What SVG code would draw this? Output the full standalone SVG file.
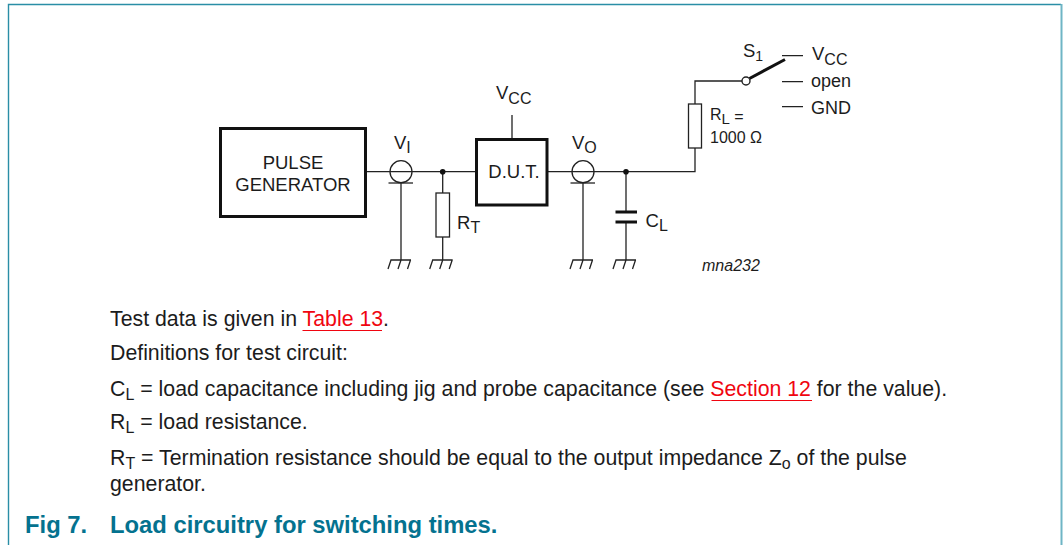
<svg xmlns="http://www.w3.org/2000/svg" width="1063" height="545" viewBox="0 0 1063 545">
<style>
text{font-family:"Liberation Sans",Arial,sans-serif;fill:#1c1c1c;font-size:18.500px}
tspan.sub{font-size:16px}
.body{font-size:21.300px}
.body tspan.sub{font-size:16px}
.w{fill:none;stroke:#222;stroke-width:1.300}
.t{fill:none;stroke:#111;stroke-width:3}
.f{fill:none;stroke:#111;stroke-width:3}
.link{fill:#f00510}
.u{stroke:#f00510;stroke-width:1.200}
.cap{font-size:23.800px;font-weight:bold;fill:#04728f}
</style>
<defs>
<g id="gnd"><path class="w" d="M-10.500 0H10M-13 9L-10 0M-3 9L0 0M6.500 9L9.500 0"/></g>
</defs>
<rect width="1063" height="545" fill="#fff"/>
<g id="frame" fill="none">
<path d="M8.500 545V4.500H1061" stroke="#2a8ea6" stroke-width="1.400"/>
<path d="M1061.500 4V545" stroke="#6fb5c5" stroke-width="2"/>
</g>
<g id="connectors">
<path class="w" d="M366 171.700H476M547 171.700H695V148M695 104V81H742M401 183V260M442.700 171.700V193M442.700 237V260M512 115V139M583 183V260M626 171.700V212M626 222V260"/>
<path class="t" d="M749.500 78.500L785 59.500"/>
<path class="w" d="M782 55.700H803M782 81.700H803M782 106.700H803"/>
<circle cx="442.700" cy="171.700" r="2.800" fill="#111"/>
<circle cx="626" cy="171.700" r="2.800" fill="#111"/>
</g>
<g id="pulse-generator"><rect class="f" x="220.500" y="128.500" width="145" height="88"/><text x="293" y="169" text-anchor="middle">PULSE</text><text x="293" y="191" text-anchor="middle">GENERATOR</text></g>
<g id="dut"><rect class="f" x="476.500" y="139.500" width="70.500" height="65.500"/><text x="514" y="178" text-anchor="middle">D.U.T.</text></g>
<g id="vi"><circle class="w" cx="401" cy="171.700" r="11"/><path class="w" d="M388.500 183H413"/><text x="394" y="148.500">V<tspan class="sub" dy="4">I</tspan></text></g>
<g id="vo"><circle class="w" cx="583" cy="171.700" r="11"/><path class="w" d="M570.500 183H595"/><text x="572" y="149">V<tspan class="sub" dy="4">O</tspan></text></g>
<g id="rt"><rect class="w" x="436" y="193" width="13.500" height="44"/><text x="457" y="229">R<tspan class="sub" dy="4">T</tspan></text></g>
<g id="rl"><rect class="w" x="688.500" y="104" width="13" height="44"/><text x="710" y="120" style="font-size:16px">R<tspan style="font-size:15px" dy="4">L</tspan><tspan dy="-2"> =</tspan></text><text x="710" y="142.500" style="font-size:16px">1000 Ω</text></g>
<g id="cl"><path d="M615.500 212H637M615.500 222H637" fill="none" stroke="#111" stroke-width="3.200"/><text x="645.500" y="226.500">C<tspan class="sub" dy="4">L</tspan></text></g>
<g id="s1"><circle cx="746" cy="81" r="4" fill="#fff" stroke="#222" stroke-width="1.400"/><text x="743" y="57">S<tspan style="font-size:14px" dy="4">1</tspan></text></g>
<g id="vcc-top"><text x="496" y="99">V<tspan class="sub" dy="5">CC</tspan></text></g>
<g id="terminals"><text x="812" y="60">V<tspan class="sub" dy="5">CC</tspan></text><text x="811" y="87" style="font-size:18px">open</text><text x="811" y="114" style="font-size:18px">GND</text></g>
<use href="#gnd" x="401" y="260"/><use href="#gnd" x="442.700" y="260"/><use href="#gnd" x="583" y="260"/><use href="#gnd" x="626" y="260"/>
<text x="702" y="270.500" style="font-size:16px;font-style:italic">mna232</text>
<g id="body">
<text class="body" x="110" y="326">Test data is given in <tspan class="link">Table 13</tspan>.</text>
<path class="u" d="M302.500 330.500H382"/>
<text class="body" x="110" y="360">Definitions for test circuit:</text>
<text class="body" x="110" y="396">C<tspan class="sub" dy="4">L</tspan><tspan dy="-4"> = load capacitance including jig and probe capacitance (see </tspan><tspan class="link">Section 12</tspan> for the value).</text>
<path class="u" d="M711.500 400.500H812"/>
<text class="body" x="110" y="429">R<tspan class="sub" dy="4">L</tspan><tspan dy="-4"> = load resistance.</tspan></text>
<text class="body" x="110" y="464.500">R<tspan class="sub" dy="4">T</tspan><tspan dy="-4"> = Termination resistance should be equal to the output impedance Z</tspan><tspan class="sub" dy="4">o</tspan><tspan dy="-4"> of the pulse</tspan></text>
<text class="body" x="110" y="491">generator.</text>
</g>
<text class="cap" x="25" y="533">Fig 7.</text>
<text class="cap" x="110" y="533">Load circuitry for switching times.</text>
</svg>
